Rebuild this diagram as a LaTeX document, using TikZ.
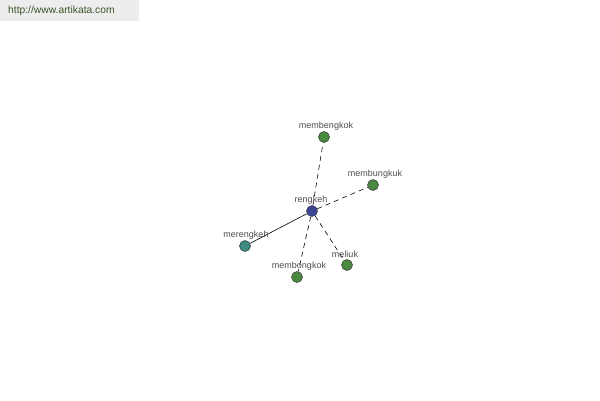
\documentclass[tikz,border=0pt]{standalone}
\usepackage{fontspec}
\setmainfont{Liberation Sans}
\begin{document}
\begin{tikzpicture}[x=1pt,y=-1pt,
  vnode/.style={circle,draw=black!80,line width=0.5pt,minimum size=11pt,inner sep=0pt},
  green/.style={vnode,fill={rgb,255:red,74;green,138;blue,64}},
  lbl/.style={font=\fontsize{9pt}{10pt}\selectfont,text=black!70,inner sep=0pt},
  edge/.style={line width=0.6pt,black},
  dedge/.style={edge,dash pattern=on 5pt off 4pt}]
\useasboundingbox (0,0) rectangle (600,400);
\fill[black!7] (0,0) rectangle (139,21);
\node[anchor=west,inner sep=0pt,font=\fontsize{10.3pt}{11pt}\selectfont,text={rgb,255:red,60;green,85;blue,40}] (url) at (8,11) {http://www.artikata.com};
\node[green] (a) at (324,137) {};
\node[green] (b) at (373,185) {};
\node[vnode,fill={rgb,255:red,60;green,140;blue,130}] (c) at (245,246) {};
\node[green] (d) at (297,277) {};
\node[green] (e) at (347,265) {};
\node[vnode,fill={rgb,255:red,60;green,70;blue,150}] (r) at (312,211) {};
\draw[dedge] (r) -- (a);
\draw[dedge] (r) -- (b);
\draw[edge] (r) -- (c);
\draw[dedge] (r) -- (d);
\draw[dedge] (r) -- (e);
\node[lbl] (la) at (326,126.5) {membengkok};
\node[lbl] (lb) at (375,174.5) {membungkuk};
\node[lbl] (lr) at (311,200.5) {rengkeh};
\node[lbl] (lc) at (246,235.5) {merengkeh};
\node[lbl] (ld) at (299,266.5) {membongkok};
\node[lbl] (le) at (345,254.5) {meliuk};
\end{tikzpicture}
\end{document}
